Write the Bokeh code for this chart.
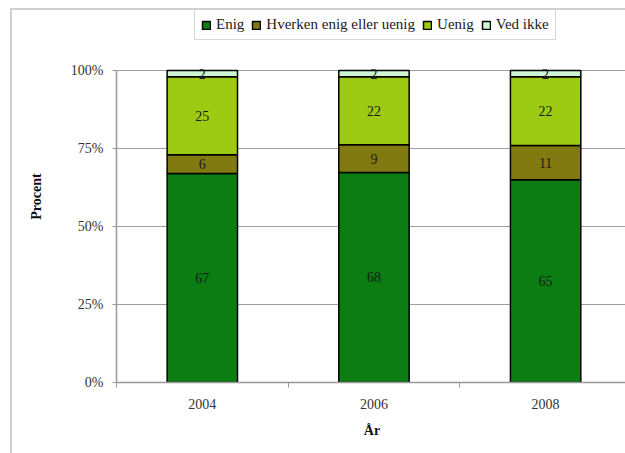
from bokeh.plotting import figure
from bokeh.models import ColumnDataSource, FixedTicker, Legend, LegendItem, LabelSet
from bokeh.embed import file_html
from bokeh.resources import INLINE
from bokeh.core.properties import value

years = ["2004", "2006", "2008"]
enig = [67, 68, 65]
hverken = [6, 9, 11]
uenig = [25, 22, 22]
ved_ikke = [2, 2, 2]
series_names = ["Enig", "Hverken enig eller uenig", "Uenig", "Ved ikke"]
colors = ["#0b7d12", "#807a10", "#9dcb14", "#ccf6d4"]
y_ticks = [0, 25, 50, 75, 100]

FONT = "Liberation Serif"
series = [enig, hverken, uenig, ved_ikke]
xs = [i + 0.5 for i in range(len(years))]
totals = [sum(vals) for vals in zip(*series)]

p = figure(width=615, height=445, output_backend="svg", toolbar_location=None,
           x_range=(0, 2.977), y_range=(0, 119.23),
           min_border_left=104, min_border_top=0, min_border_bottom=73,
           min_border_right=0)
p.styles = {"border-left": "2px solid #cfcfcf", "border-top": "2px solid #cfcfcf",
            "margin-left": "10px", "margin-top": "8px"}
p.outline_line_color = None
p.background_fill_color = "white"
p.border_fill_color = "white"

bottoms = [0.0] * len(years)
items = []
lab_x, lab_y, lab_t = [], [], []
for name, vals, col in zip(series_names, series, colors):
    pct = [v / t * 100 for v, t in zip(vals, totals)]
    tops = [b + q for b, q in zip(bottoms, pct)]
    src = ColumnDataSource(dict(x=xs, bottom=bottoms, top=tops))
    r = p.vbar(x="x", bottom="bottom", top="top", width=0.41, source=src,
               fill_color=col, line_color="black", line_width=1.5)
    items.append(LegendItem(label=name, renderers=[r]))
    for x, b, t, v in zip(xs, bottoms, tops, vals):
        lab_x.append(x)
        lab_y.append((b + t) / 2)
        lab_t.append(str(v))
    bottoms = tops

lsrc = ColumnDataSource(dict(x=lab_x, y=lab_y, t=lab_t))
p.add_layout(LabelSet(x="x", y="y", text="t", source=lsrc, text_align="center",
                      text_baseline="middle", text_font=value(FONT),
                      text_font_size="14px", text_color="#1a1a1a"))

legend = Legend(items=items, orientation="horizontal", location=(78, 342),
                border_line_color="#b0b0b0", border_line_width=1.5,
                padding=6, margin=0, spacing=7, label_standoff=5,
                glyph_width=10, glyph_height=10,
                label_text_font=FONT, label_text_font_size="15px",
                label_text_color="#1a1a1a", background_fill_color="white")
p.add_layout(legend, "center")

# axes
p.yaxis.ticker = FixedTicker(ticks=y_ticks)
p.yaxis.major_label_overrides = {t: f"{t}%" for t in y_ticks}
p.yaxis.bounds = (0, 100)
p.xaxis.ticker = FixedTicker(ticks=xs, minor_ticks=list(range(len(years) + 1)))
p.xaxis.major_label_overrides = {x: y for x, y in zip(xs, years)}

for ax in (p.xaxis[0], p.yaxis[0]):
    ax.axis_line_color = "#999999"
    ax.axis_line_width = 1.5
    ax.major_label_text_font = FONT
    ax.major_label_text_font_size = "14px"
    ax.major_label_text_color = "#333333"
    ax.axis_label_text_font = FONT
    ax.axis_label_text_font_size = "14px"
    ax.axis_label_text_font_style = "bold"
    ax.axis_label_text_color = "#111111"
    ax.major_tick_line_color = "#999999"
    ax.minor_tick_line_color = "#999999"

p.xaxis.axis_label = "År"
p.xaxis.major_tick_out = 0
p.xaxis.major_tick_in = 0
p.xaxis.minor_tick_out = 5
p.xaxis.minor_tick_in = 0
p.xaxis.major_label_standoff = 11
p.xaxis.axis_label_standoff = 11

p.yaxis.axis_label = "Procent"
p.yaxis.major_tick_out = 4
p.yaxis.major_tick_in = 0
p.yaxis.minor_tick_out = 0
p.yaxis.minor_tick_in = 0
p.yaxis.major_label_standoff = 9
p.yaxis.axis_label_standoff = 24

p.xgrid.grid_line_color = None
p.ygrid.grid_line_color = "#a0a0a0"
p.ygrid.grid_line_width = 1

open("out.html", "w").write(file_html(p, INLINE))
